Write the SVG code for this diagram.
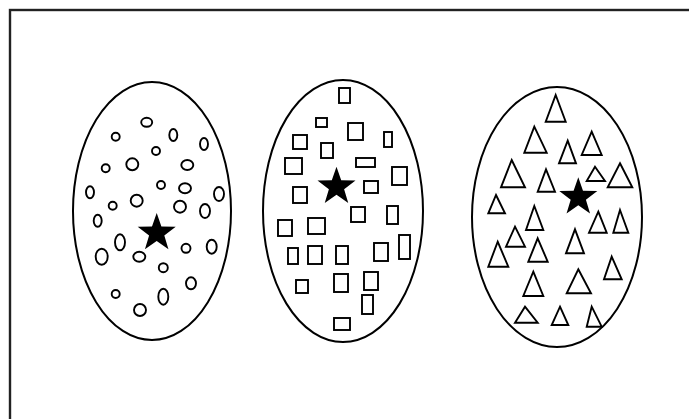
<svg xmlns="http://www.w3.org/2000/svg" width="689" height="419" viewBox="0 0 689 419">
<style>
.o{fill:none;stroke:#000;stroke-width:2}
.s{fill:none;stroke:#000;stroke-width:1.9}
.st{fill:#000;stroke:none}
</style>
<defs>
<path id="star" d="M0,-20 L4.70,-6.47 L19.02,-6.18 L7.61,2.47 L11.76,16.18 L0,8 L-11.76,16.18 L-7.61,2.47 L-19.02,-6.18 L-4.70,-6.47 Z"/>
</defs>
<rect x="10" y="10" width="700" height="420" fill="#fff" stroke="#222" stroke-width="2.4"/>
<g id="cluster-circles">
<ellipse class="o" cx="152" cy="211" rx="79" ry="129"/>
<g class="s">
<ellipse cx="146.7" cy="122.3" rx="5.5" ry="4.5"/>
<ellipse cx="115.7" cy="136.7" rx="4" ry="4"/>
<ellipse cx="173.3" cy="135" rx="4" ry="6"/>
<ellipse cx="204" cy="144" rx="4" ry="6"/>
<ellipse cx="156" cy="151" rx="4" ry="4"/>
<ellipse cx="132.3" cy="164.3" rx="6" ry="6"/>
<ellipse cx="105.7" cy="168.3" rx="4" ry="4"/>
<ellipse cx="187.3" cy="165" rx="6" ry="5"/>
<ellipse cx="161" cy="185" rx="4" ry="4"/>
<ellipse cx="185" cy="188.3" rx="6" ry="5"/>
<ellipse cx="90" cy="192.3" rx="4" ry="6"/>
<ellipse cx="136.7" cy="200.7" rx="6" ry="6"/>
<ellipse cx="219" cy="194" rx="5" ry="7"/>
<ellipse cx="112.7" cy="205.7" rx="4" ry="4"/>
<ellipse cx="180" cy="206.7" rx="6" ry="6"/>
<ellipse cx="205" cy="211" rx="5" ry="7"/>
<ellipse cx="97.7" cy="220.7" rx="4" ry="6"/>
<ellipse cx="120" cy="242.3" rx="5" ry="8"/>
<ellipse cx="211.7" cy="246.7" rx="5" ry="7"/>
<ellipse cx="186" cy="248.3" rx="4.5" ry="4.5"/>
<ellipse cx="101.7" cy="256.7" rx="6" ry="8"/>
<ellipse cx="139.3" cy="256.7" rx="6" ry="5"/>
<ellipse cx="163.3" cy="267.7" rx="4.5" ry="4.5"/>
<ellipse cx="191" cy="283.3" rx="5" ry="6"/>
<ellipse cx="115.7" cy="294" rx="4" ry="4"/>
<ellipse cx="163.3" cy="296.7" rx="5" ry="8"/>
<ellipse cx="140" cy="310" rx="6" ry="6"/>
</g>
<use href="#star" class="st" transform="translate(156.7,233)"/>
</g>
<g id="cluster-squares">
<ellipse class="o" cx="343" cy="211" rx="80" ry="131"/>
<g class="s">
<rect x="339" y="88" width="11" height="15"/>
<rect x="316" y="118" width="11" height="9"/>
<rect x="348" y="123" width="15" height="17"/>
<rect x="384" y="132" width="8" height="15"/>
<rect x="293" y="135" width="14" height="14"/>
<rect x="321" y="143" width="12" height="15"/>
<rect x="285" y="158" width="17" height="16"/>
<rect x="356" y="158" width="19" height="9"/>
<rect x="392" y="167" width="15" height="18"/>
<rect x="364" y="181" width="14" height="12"/>
<rect x="293" y="187" width="14" height="16"/>
<rect x="351" y="207" width="14" height="15"/>
<rect x="387" y="206" width="11" height="18"/>
<rect x="278" y="220" width="14" height="16"/>
<rect x="308" y="218" width="17" height="16"/>
<rect x="399" y="235" width="11" height="24"/>
<rect x="288" y="248" width="10" height="16"/>
<rect x="308" y="246" width="14" height="18"/>
<rect x="336" y="246" width="12" height="18"/>
<rect x="374" y="243" width="14" height="18"/>
<rect x="296" y="280" width="12" height="13"/>
<rect x="334" y="274" width="14" height="18"/>
<rect x="364" y="272" width="14" height="18"/>
<rect x="362" y="295" width="11" height="19"/>
<rect x="334" y="318" width="16" height="12"/>
</g>
<use href="#star" class="st" transform="translate(336.5,186.7)"/>
</g>
<g id="cluster-triangles">
<ellipse class="o" cx="557" cy="217" rx="85" ry="130"/>
<g class="s">
<polygon points="555.7,95 565.7,121.7 545.7,121.7"/>
<polygon points="534.3,126.7 546.7,152.7 524.3,152.7"/>
<polygon points="567.7,140.7 576,163.3 559,163.3"/>
<polygon points="591.7,131.7 601.7,155 581.7,155"/>
<polygon points="511.7,160 525,187.3 501,187.3"/>
<polygon points="546,169.3 555,191.7 537.7,191.7"/>
<polygon points="595,166.7 605,181 586.7,181"/>
<polygon points="620,163.3 632.3,187.3 607.7,187.3"/>
<polygon points="496,195 505,213.3 488.3,213.3"/>
<polygon points="534.3,206 543.3,230 526,230"/>
<polygon points="598.3,211.7 606.7,232.7 589,232.7"/>
<polygon points="620,210 628.3,232.7 613.3,232.7"/>
<polygon points="515,226.7 525,246.7 506,246.7"/>
<polygon points="537.7,238.3 547.7,261.7 528.3,261.7"/>
<polygon points="575,229.3 584,253.3 566,253.3"/>
<polygon points="497.7,241.7 508.3,266.7 488.3,266.7"/>
<polygon points="611.7,256.7 621.7,279.3 604,279.3"/>
<polygon points="533.3,271.7 543.3,296 523.3,296"/>
<polygon points="578.3,269.3 591,293.3 566.7,293.3"/>
<polygon points="525,306.7 537.7,322.7 515,322.7"/>
<polygon points="560,306.7 568.3,325 551.7,325"/>
<polygon points="591.7,306.7 601.7,326.7 586.7,326.7"/>
</g>
<use href="#star" class="st" transform="translate(578.3,197.2)"/>
</g>
</svg>
